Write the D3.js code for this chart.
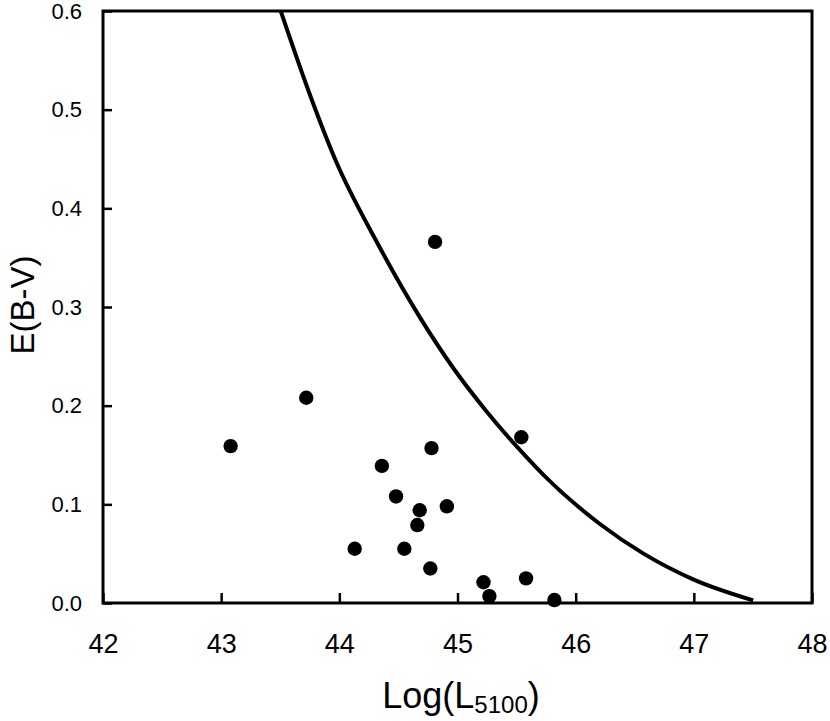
<!DOCTYPE html>
<html lang="en">
<head>
  <meta charset="UTF-8">
  <title>E(B-V) vs Log(L5100)</title>
  <style>
    body { margin: 0; background: white; }
    text { font-family: "Liberation Sans", Arial, sans-serif; }
  </style>
</head>
<body>
  <svg id="svg" width="830" height="721"></svg>
  <script src="https://d3js.org/d3.v7.min.js"></script>
  <script>
    // points
    const logL = [44.81, 43.72, 45.54, 44.78, 44.36, 44.48, 44.68, 44.91, 44.66, 44.13, 44.55, 44.77, 45.22, 45.58, 45.27, 45.82, 43.08]
    const ebv = [0.366, 0.208, 0.168, 0.157, 0.139, 0.108, 0.094, 0.098, 0.079, 0.055, 0.055, 0.035, 0.021, 0.025, 0.007, 0.003, 0.159]

    // limit curve, traced
    const curveX = [43.504, 43.766, 43.980, 44.299, 44.682, 44.964, 45.246, 45.528, 45.725, 46.205, 46.571, 46.994, 47.502]
    const curveY = [0.600, 0.5103, 0.4454, 0.3699, 0.2895, 0.2382, 0.1942, 0.1551, 0.1301, 0.0801, 0.0503, 0.0240, 0.0027]

    const xTicks = [42, 43, 44, 45, 46, 47, 48]
    const yTicks = [0, 0.1, 0.2, 0.3, 0.4, 0.5, 0.6]

    const mLeft = 103, mRight = 812, mTop = 11, mBottom = 603
    const svg = d3.select('#svg')

    const xScale = d3.scaleLinear().domain([42, 48]).range([mLeft, mRight])
    const yScale = d3.scaleLinear().domain([0, 0.6]).range([mBottom, mTop])

    // ticks point inward
    const bottomAxis = d3.axisBottom(xScale)
      .tickValues(xTicks)
      .tickSizeInner(-10)
      .tickSizeOuter(0)
      .tickPadding(31)
      .tickFormat(d3.format('d'))
    const leftAxis = d3.axisLeft(yScale)
      .tickValues(yTicks)
      .tickSizeInner(-9)
      .tickSizeOuter(0)
      .tickPadding(21)
      .tickFormat(d3.format('.1f'))

    const gx = svg.append('g')
      .attr('transform', `translate(0, ${mBottom})`)
      .call(bottomAxis)
    gx.select('.domain').remove()
    gx.selectAll('line').attr('stroke', '#000').attr('stroke-width', 2.5)
    gx.selectAll('text')
      .style('font-size', '27px')
      .attr('fill', '#000')

    const gy = svg.append('g')
      .attr('transform', `translate(${mLeft}, 0)`)
      .call(leftAxis)
    gy.select('.domain').remove()
    gy.selectAll('line').attr('stroke', '#000').attr('stroke-width', 2.5)
    gy.selectAll('text')
      .style('font-size', '22px')
      .attr('fill', '#000')

    // frame
    svg.append('rect')
      .attr('x', mLeft)
      .attr('y', mTop)
      .attr('width', mRight - mLeft)
      .attr('height', mBottom - mTop)
      .attr('fill', 'none')
      .attr('stroke', '#000')
      .attr('stroke-width', 3)

    const line = d3.line()
      .x(d => xScale(d[0]))
      .y(d => yScale(d[1]))
      .curve(d3.curveMonotoneX)
    svg.append('path')
      .datum(curveX.map((x, i) => [x, curveY[i]]))
      .attr('d', line)
      .attr('fill', 'none')
      .attr('stroke', '#000')
      .attr('stroke-width', 4)

    svg.selectAll('circle')
      .data(logL.map((x, i) => [x, ebv[i]]))
      .enter()
      .append('circle')
      .attr('cx', d => xScale(d[0]))
      .attr('cy', d => yScale(d[1]))
      .attr('r', 7.2)
      .attr('fill', '#000')

    // axis titles
    svg.append('text')
      .attr('transform', `translate(34, 305) rotate(-90)`)
      .attr('text-anchor', 'middle')
      .style('font-size', '33px')
      .text('E(B-V)')

    const xt = svg.append('text')
      .attr('x', 461)
      .attr('y', 708)
      .attr('text-anchor', 'middle')
      .style('font-size', '36px')
    xt.append('tspan').text('Log(L')
    xt.append('tspan').attr('dy', 5).style('font-size', '24px').text('5100')
    xt.append('tspan').attr('dy', -5).text(')')
  </script>
</body>
</html>
